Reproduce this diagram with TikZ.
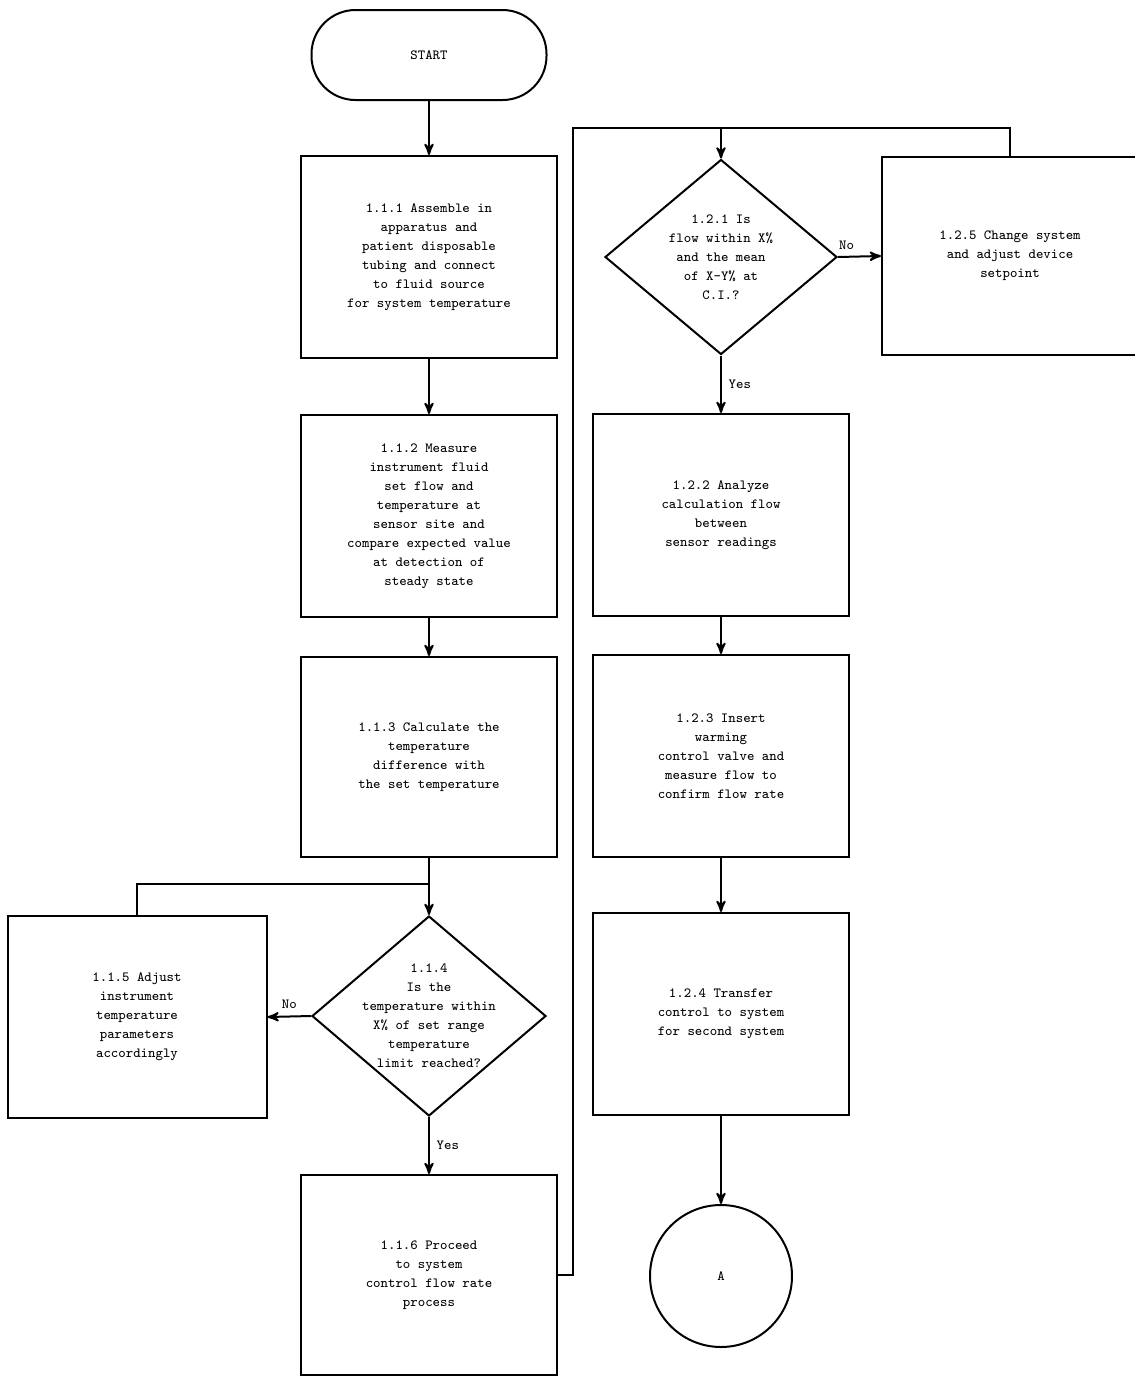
\documentclass[tikz,border=0pt]{standalone}
\usetikzlibrary{arrows, positioning, shapes.geometric}

\begin{document}
\begin{tikzpicture}[x=0.5pt, y=-0.5pt, ->, >=stealth', line width=1pt]
        \tikzstyle{every node}=[font=\ttfamily\fontsize{7}{9.5}\selectfont, align=center]
        \tikzstyle{process}=[draw, rectangle, minimum width=128pt, minimum height=101pt, inner sep=0pt]
        \tikzstyle{decision}=[draw, diamond, minimum width=117pt, minimum height=100pt, inner sep=0pt]
        \useasboundingbox (0,0) rectangle (1135,1378);
        % left column
        \node[draw, rectangle, rounded corners=22pt, minimum width=117.5pt, minimum height=45pt] (start) at (429,55) {START};
        \node[process] (assemble) at (429,257) {1.1.1 Assemble in\\ apparatus and\\ patient disposable\\ tubing and connect\\ to fluid source\\ for system temperature};
        \node[process] (measure) at (429,516) {1.1.2 Measure\\ instrument fluid\\ set flow and\\ temperature at\\ sensor site and\\ compare expected value\\ at detection of\\ steady state};
        \node[process, minimum height=100pt] (calc) at (429,757) {1.1.3 Calculate the\\ temperature\\ difference with\\ the set temperature};
        \node[decision] (tempok) at (429,1016) {};
        \node (tempoktxt) at (tempok) {1.1.4\\ Is the\\ temperature within\\ X\% of set range\\ temperature\\ limit reached?};
        \node[process, minimum width=129.5pt] (adjust) at (137,1017) {1.1.5 Adjust\\ instrument\\ temperature\\ parameters\\ accordingly};
        \node[process, minimum height=100pt] (proceed) at (429,1275) {1.1.6 Proceed\\ to system\\ control flow rate\\ process};
        % right column
        \node[decision, minimum width=116pt, minimum height=97.5pt] (flowok) at (721,257) {};
        \node (flowoktxt) at (flowok) {1.2.1 Is\\ flow within X\%\\ and the mean\\ of X-Y\% at\\ C.I.?};
        \node[process, minimum height=99pt] (change) at (1010,256) {1.2.5 Change system\\ and adjust device\\ setpoint};
        \node[process] (analyze) at (721,515) {1.2.2 Analyze\\ calculation flow\\ between\\ sensor readings};
        \node[process] (insert) at (721,756) {1.2.3 Insert\\ warming\\ control valve and\\ measure flow to\\ confirm flow rate};
        \node[process] (transfer) at (721,1014) {1.2.4 Transfer\\ control to system\\ for second system};
        \node[draw, circle, minimum size=71pt, inner sep=0pt] (conA) at (721,1276) {A};
        \coordinate (loopL) at (429,884);
        \coordinate (riseR) at (573,128);
        \coordinate (loopR) at (721,128);
        % connectors
        \draw (start) -- (assemble);
        \draw (assemble) -- (measure);
        \draw (measure) -- (calc);
        \draw (calc) -- (tempok);
        \draw (tempok.west) -- node[above]{No} (adjust.east);
        \draw[-] (adjust.north) |- (loopL);
        \draw (tempok.south) -- node[right]{Yes} (proceed.north);
        \draw (proceed.east) -| (riseR) -- (loopR) -- (flowok.north);
        \draw (flowok.east) -- node[above, pos=0.2]{No} (change.west);
        \draw[-] (change.north) |- (loopR);
        \draw (flowok.south) -- node[right]{Yes} (analyze.north);
        \draw (analyze) -- (insert);
        \draw (insert) -- (transfer);
        \draw (transfer) -- (conA);
\end{tikzpicture}
\end{document}
